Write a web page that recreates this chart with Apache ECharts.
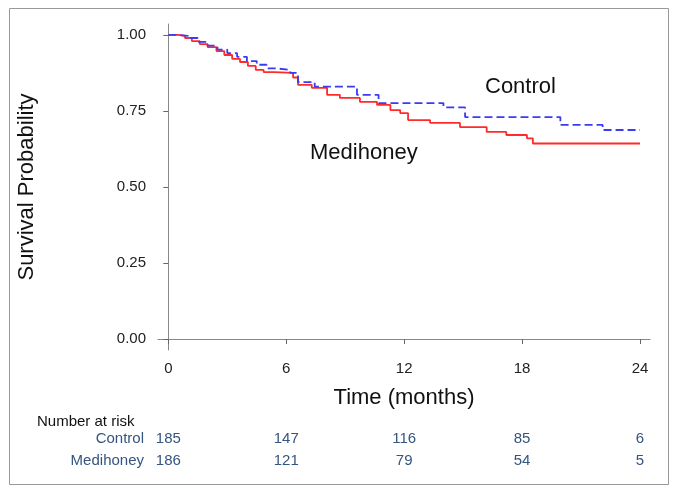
<!DOCTYPE html>
<html>
<head>
<meta charset="utf-8">
<script src="https://cdn.jsdelivr.net/npm/echarts@6/dist/echarts.min.js"></script>
<style>
html,body{margin:0;padding:0;background:#fff;}
#c{width:676px;height:492px;}
</style>
</head>
<body>
<div id="c"></div>
<script>
// Kaplan-Meier step points [months, survival]
var controlCurve = [
  [0,1.0],[0.5,0.997],[1.0,0.99],[1.5,0.977],[2.0,0.965],[2.5,0.952],[3.0,0.94],
  [3.5,0.928],[4.0,0.914],[4.5,0.902],[5.0,0.89],[5.5,0.885],[6.2,0.875],
  [6.6,0.845],[7.45,0.83],[9.6,0.803],[10.7,0.776],[14.0,0.762],[15.1,0.73],
  [19.95,0.704],[22.1,0.6875],[24,0.6875]
];
var medihoneyCurve = [
  [0,1.0],[0.5,0.997],[0.85,0.99],[1.2,0.98],[1.6,0.97],[2.0,0.96],[2.45,0.947],
  [2.85,0.934],[3.25,0.921],[3.65,0.911],[4.05,0.898],[4.45,0.885],[4.85,0.878],
  [5.4,0.875],[6.35,0.86],[6.6,0.836],[7.3,0.826],[8.08,0.803],[8.73,0.793],
  [9.75,0.78],[10.62,0.77],[11.3,0.753],[11.8,0.743],[12.2,0.72],[13.32,0.711],
  [14.84,0.697],[16.2,0.681],[17.2,0.671],[18.25,0.66],[18.55,0.643],[24,0.643]
];
var xTicks = [0, 6, 12, 18, 24];
var yTicks = [0, 0.25, 0.5, 0.75, 1];
var riskTimes = [0, 6, 12, 18, 24];
var controlAtRisk = [185, 147, 116, 85, 6];
var medihoneyAtRisk = [186, 121, 79, 54, 5];
var groupNames = ['Control', 'Medihoney'];

var FONT = '"Liberation Sans", Arial, Helvetica, sans-serif';
var riskColor = '#34557f';

function riskFormatter(arr) {
  return function (v) {
    var i = riskTimes.indexOf(v);
    return i >= 0 ? String(arr[i]) : '';
  };
}

var chart = echarts.init(document.getElementById('c'), null, {renderer: 'canvas'});
var hiddenAxis = {
  type: 'value', min: -0.524, max: 24.51, position: 'bottom',
  axisLine: {show: false}, axisTick: {show: false}, splitLine: {show: false}
};
chart.setOption({
  animation: false,
  backgroundColor: '#fff',
  grid: {left: 158, right: 26, top: 24, bottom: 142, containLabel: false},
  xAxis: [
    {
      type: 'value', min: -0.524, max: 24.51,
      name: 'Time (months)', nameLocation: 'middle', nameGap: 37,
      nameTextStyle: {fontFamily: FONT, fontSize: 22, color: '#111'},
      axisLine: {show: true, lineStyle: {color: '#888', width: 1}},
      axisTick: {show: true, length: 5, customValues: xTicks, lineStyle: {color: '#666'}},
      axisLabel: {customValues: xTicks, margin: 11, fontFamily: FONT, fontSize: 15, color: '#222'},
      splitLine: {show: false}
    },
    Object.assign({}, hiddenAxis, {
      offset: 81,
      axisLabel: {customValues: riskTimes, margin: 0, fontFamily: FONT, fontSize: 15, color: riskColor,
        formatter: riskFormatter(controlAtRisk)}
    }),
    Object.assign({}, hiddenAxis, {
      offset: 103,
      axisLabel: {customValues: riskTimes, margin: 0, fontFamily: FONT, fontSize: 15, color: riskColor,
        formatter: riskFormatter(medihoneyAtRisk)}
    })
  ],
  yAxis: {
    type: 'value', min: -0.036, max: 1.036,
    name: 'Survival Probability', nameLocation: 'middle', nameGap: 120,
    nameTextStyle: {fontFamily: FONT, fontSize: 22, color: '#111'},
    axisLine: {show: true, lineStyle: {color: '#888', width: 1}},
    axisTick: {show: true, length: 5, customValues: yTicks, lineStyle: {color: '#666'}},
    axisLabel: {customValues: yTicks, margin: 12, fontFamily: FONT, fontSize: 15, color: '#222',
      formatter: function (v) { return v.toFixed(2); }},
    splitLine: {show: false}
  },
  series: [
    {
      name: groupNames[1], type: 'line', step: 'end', xAxisIndex: 0,
      data: medihoneyCurve, showSymbol: false, symbol: 'none',
      lineStyle: {color: '#ff2a2a', width: 1.8}
    },
    {
      name: groupNames[0], type: 'line', step: 'end', xAxisIndex: 0,
      data: controlCurve, showSymbol: false, symbol: 'none',
      lineStyle: {color: '#3b3bef', width: 1.8, type: [8, 4]}
    }
  ],
  graphic: [
    {type: 'rect', shape: {x: 9.5, y: 8.5, width: 659, height: 476},
      style: {fill: 'none', stroke: '#999', lineWidth: 1}, silent: true},
    {type: 'text', x: 485, y: 87, style: {text: groupNames[0], font: '22px ' + FONT, fill: '#111', textVerticalAlign: 'middle'}},
    {type: 'text', x: 310, y: 153, style: {text: groupNames[1], font: '22px ' + FONT, fill: '#111', textVerticalAlign: 'middle'}},
    {type: 'text', x: 37, y: 422, style: {text: 'Number at risk', font: '15px ' + FONT, fill: '#111', textVerticalAlign: 'middle'}},
    {type: 'text', x: 144, y: 439, style: {text: groupNames[0], font: '15px ' + FONT, fill: riskColor, textAlign: 'right', textVerticalAlign: 'middle'}},
    {type: 'text', x: 144, y: 461, style: {text: groupNames[1], font: '15px ' + FONT, fill: riskColor, textAlign: 'right', textVerticalAlign: 'middle'}}
  ]
});
</script>
</body>
</html>
